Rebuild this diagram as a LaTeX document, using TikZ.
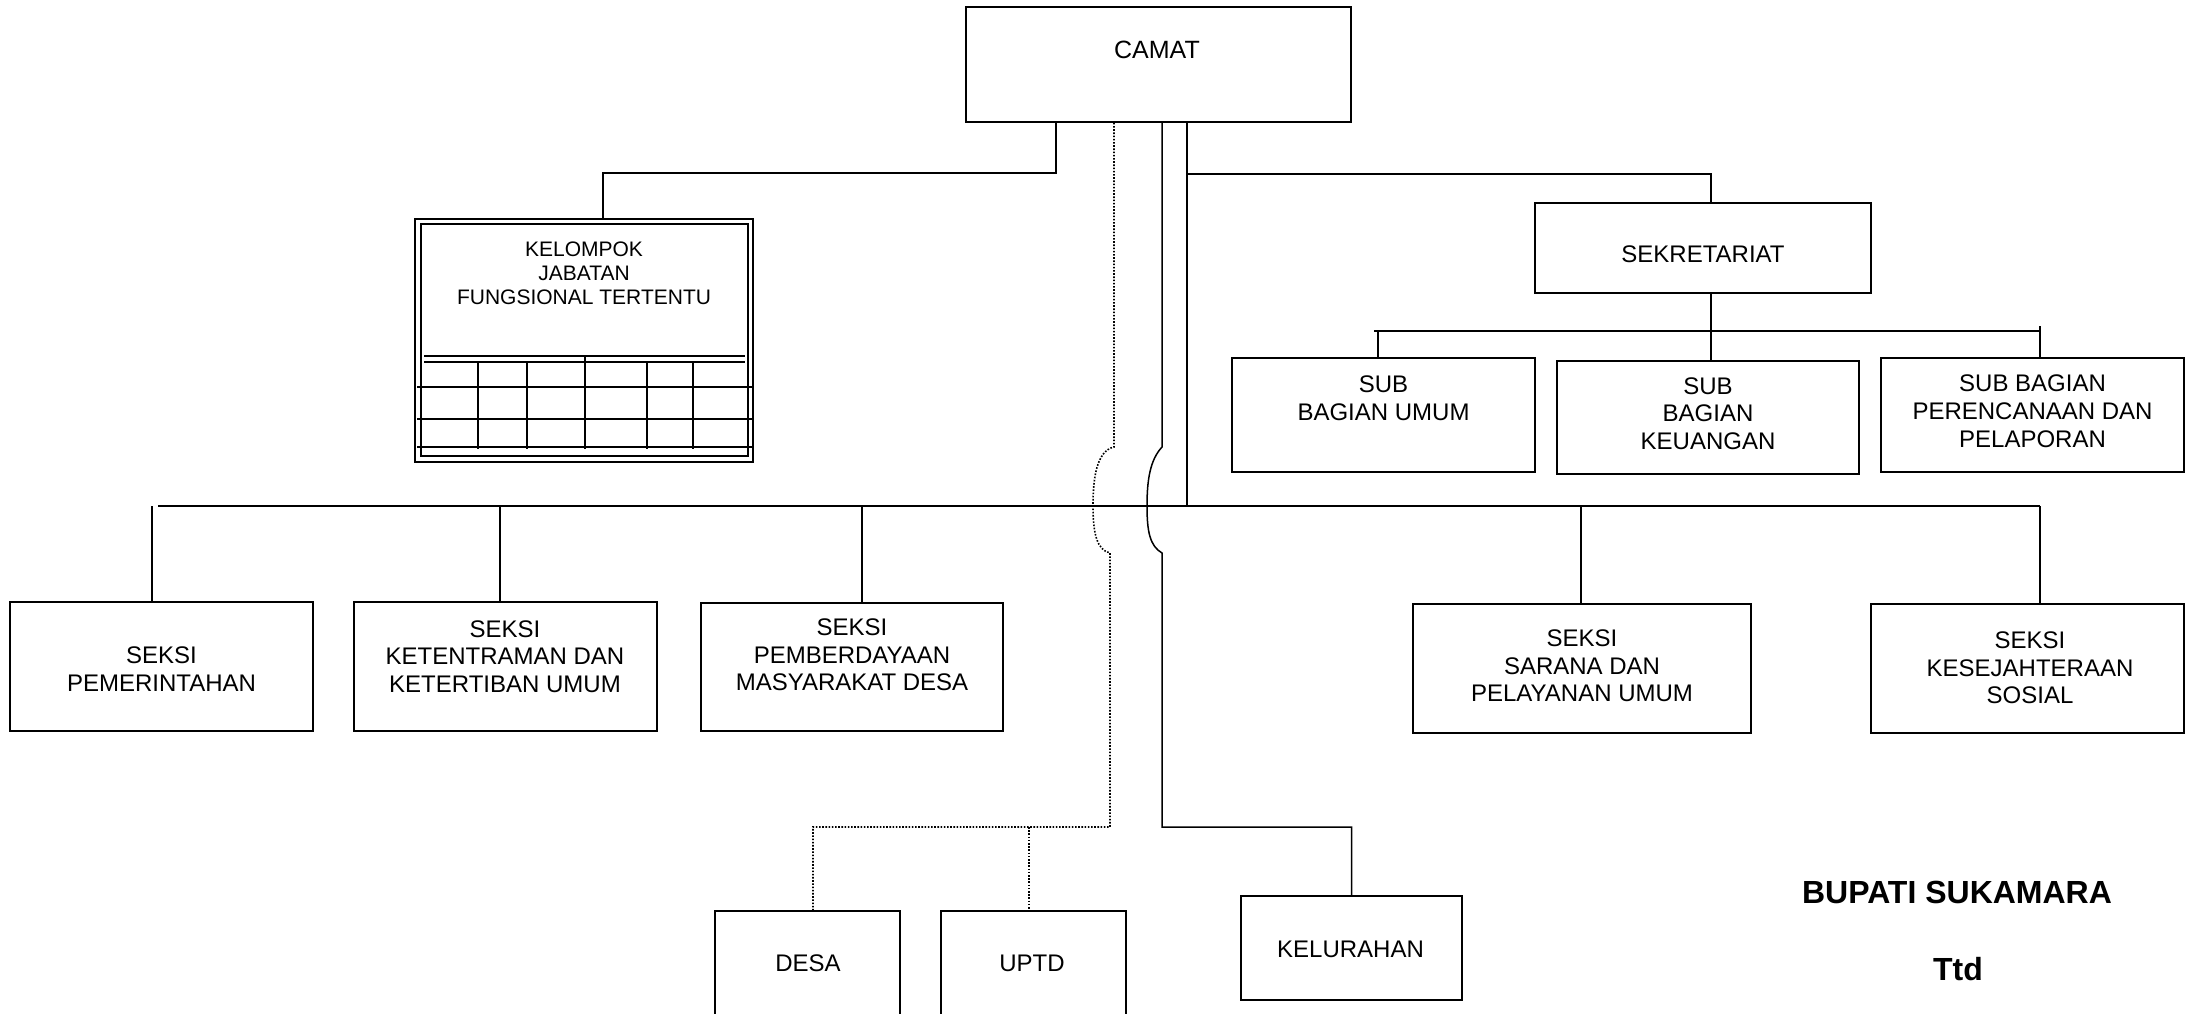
\documentclass[tikz,border=0pt]{standalone}
\usepackage{fontspec}
\setmainfont{Liberation Sans}
\usetikzlibrary{fit}
\tikzset{
  box/.style={draw, line width=0.8pt, inner sep=0pt, rectangle},
  conn/.style={line width=0.75pt},
  dotln/.style={line width=0.8pt, dash pattern=on 0.8pt off 0.8pt},
  grid/.style={line width=0.8pt},
  txt/.style={align=center, inner sep=0pt, font=\fontsize{12}{13.8}\selectfont},
}
\begin{document}
\begin{tikzpicture}[x=0.5pt,y=-0.5pt]
\useasboundingbox (0,0) rectangle (2194,1013);
\clip (0,0) rectangle (2194,1013);
\fill[white] (0,0) rectangle (2194,1013);

% ---- boxes ----
\node[box, fit={(966,7) (1351,122)}] (camat) {};
\node[box, fit={(415,219) (753,462)}] (kjf) {};
\node[box, fit={(1535,203) (1871,293)}] (sek) {};
\node[box, fit={(1232,358) (1535,472)}] (umum) {};
\node[box, fit={(1557,361) (1859,474)}] (keu) {};
\node[box, fit={(1881,358) (2184,472)}] (per) {};
\node[box, fit={(10,602) (313,731)}] (pem) {};
\node[box, fit={(354,602) (657,731)}] (ket) {};
\node[box, fit={(701,603) (1003,731)}] (pmb) {};
\node[box, fit={(1413,604) (1751,733)}] (sar) {};
\node[box, fit={(1871,604) (2184,733)}] (kes) {};
\node[box, fit={(715,911) (900,1040)}] (desa) {};
\node[box, fit={(941,911) (1126,1040)}] (uptd) {};
\node[box, fit={(1241,896) (1462,1000)}] (kel) {};

% ---- texts ----
\node[txt, font=\fontsize{12.5}{14}\selectfont] (camat-t) at (1157,49.5) {CAMAT};
\node[txt, font=\fontsize{10.5}{12}\selectfont] (kjf-t) at (584,273) {KELOMPOK\\JABATAN\\FUNGSIONAL TERTENTU};
\node[txt] (sek-t) at (1703,254.7) {SEKRETARIAT};
\node[txt] (umum-t) at (1383.5,398) {SUB\\BAGIAN UMUM};
\node[txt] (keu-t) at (1708,413.7) {SUB\\BAGIAN\\KEUANGAN};
\node[txt] (per-t) at (2032.5,411.3) {SUB BAGIAN\\PERENCANAAN DAN\\PELAPORAN};
\node[txt] (pem-t) at (161.5,669) {SEKSI\\PEMERINTAHAN};
\node[txt] (ket-t) at (505,656.7) {SEKSI\\KETENTRAMAN DAN\\KETERTIBAN UMUM};
\node[txt] (pmb-t) at (852,655) {SEKSI\\PEMBERDAYAAN\\MASYARAKAT DESA};
\node[txt] (sar-t) at (1582,666) {SEKSI\\SARANA DAN\\PELAYANAN UMUM};
\node[txt] (kes-t) at (2030,668) {SEKSI\\KESEJAHTERAAN\\SOSIAL};
\node[txt] (kel-t) at (1350.5,949) {KELURAHAN};
\node[txt] (desa-t) at (808,963) {DESA};
\node[txt] (uptd-t) at (1032,963) {UPTD};
\node[txt, anchor=base, font=\fontsize{16}{18}\selectfont\bfseries] (bupati) at (1957,903) {BUPATI SUKAMARA};
\node[txt, anchor=base, font=\fontsize{16}{18}\selectfont\bfseries] (ttd) at (1958,980) {Ttd};

% ---- KELOMPOK inner frame and table ----
\draw[grid] (421,224) rectangle (748,456);
\draw[grid] (424,356) -- (745,356);
\draw[grid] (424,362) -- (745,362);
\foreach \yy in {387,419,447} { \draw[grid] (417,\yy) -- (752,\yy); }
\foreach \xx in {478,527,647,693} { \draw[grid] (\xx,362) -- (\xx,449); }
\draw[grid] (585,357) -- (585,449);

% ---- connectors ----
% to KELOMPOK
\coordinate (a1) at (1056,173);
\coordinate (a2) at (603,173);
\draw[conn] (camat.south -| a1) -- (a1) -- (a2) -- (a2 |- kjf.north);

% dotted to DESA / UPTD
\coordinate (d1) at (1114,447);
\coordinate (d2) at (1110,553);
\coordinate (d3) at (1110,827);
\coordinate (d4) at (813,827);
\coordinate (d5) at (1029,827);
\draw[dotln] (camat.south -| d1) -- (d1)
  .. controls (1096,451) and (1093,480) .. (1093,506)
  .. controls (1093,534) and (1097,550) .. (d2) -- (d3) -- (d4) -- (d4 |- desa.north);
\draw[dotln] (d5) -- (d5 |- uptd.north);

% solid to KELURAHAN
\coordinate (s1) at (1162,447);
\coordinate (s2) at (1162,553);
\coordinate (s3) at (1162,827);
\draw[conn] (camat.south -| s1) -- (s1)
  .. controls (1150,460) and (1147,480) .. (1147,506)
  .. controls (1147,532) and (1150,546) .. (s2) -- (s3) -| (kel.north);

% main trunk
\coordinate (m1) at (1187,506);
\coordinate (r1) at (1187,174);
\coordinate (r2) at (1711,174);
\draw[conn] (camat.south -| m1) -- (m1);
\draw[conn] (r1) -- (r2) -- (r2 |- sek.north);

% main horizontal line and SEKSI drops
\coordinate (mL) at (158,506);
\coordinate (mR) at (2040,506);
\draw[conn] (mL) -- (mR);
\coordinate (p1) at (152,506);
\coordinate (p2) at (500,506);
\coordinate (p3) at (862,506);
\coordinate (p4) at (1581,506);
\draw[conn] (p1) -- (p1 |- pem.north);
\draw[conn] (p2) -- (p2 |- ket.north);
\draw[conn] (p3) -- (p3 |- pmb.north);
\draw[conn] (p4) -- (p4 |- sar.north);
\draw[conn] (mR) -- (mR |- kes.north);

% Sekretariat sub-parts
\coordinate (b0) at (1711,331);
\coordinate (bL) at (1374,331);
\coordinate (bR) at (2040,331);
\coordinate (b1) at (1378,331);
\coordinate (b3) at (2040,326);
\draw[conn] (sek.south -| b0) -- (b0 |- keu.north);
\draw[conn] (bL) -- (bR);
\draw[conn] (b1) -- (b1 |- umum.north);
\draw[conn] (b3) -- (b3 |- per.north);
\end{tikzpicture}
\end{document}
